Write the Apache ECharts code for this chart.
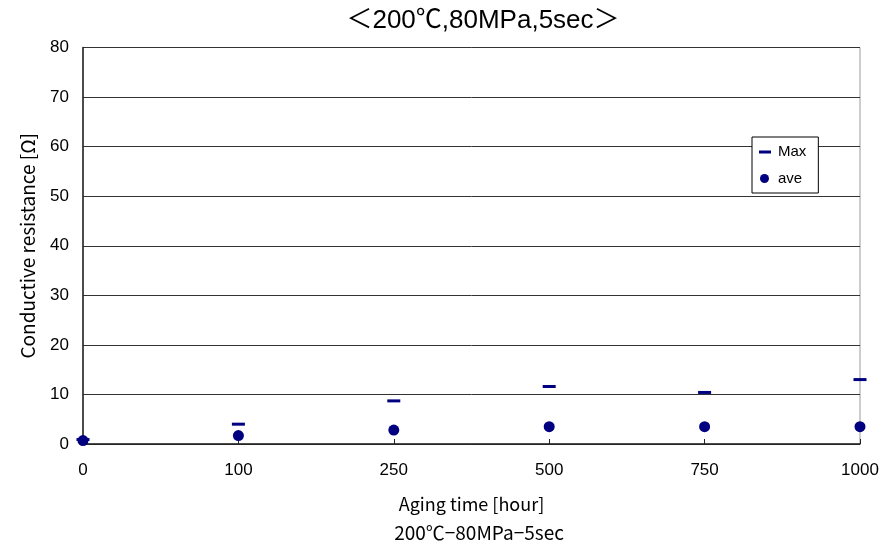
<!DOCTYPE html>
<html>
<head>
<meta charset="utf-8">
<script src="https://cdn.jsdelivr.net/npm/echarts@6/dist/echarts.min.js"></script>
<style>
  html, body { margin: 0; padding: 0; background: #fff; }
  #chart { width: 895px; height: 549px; }
</style>
</head>
<body>
<div id="chart"></div>
<script>
// aging time categories (equally spaced on the original chart)
const agingHours = ['0', '100', '250', '500', '750', '1000'];
// conductive resistance values [Ω]
const maxValues = [0.9, 4.0, 8.7, 11.6, 10.4, 13.0];
const aveValues = [0.7, 1.7, 2.8, 3.5, 3.5, 3.5];

const NAVY = '#000080';
const jpFont = '"Noto Sans CJK JP", sans-serif';
const latinFont = '"Liberation Sans", "Noto Sans CJK JP", Arial, sans-serif';

const chart = echarts.init(document.getElementById('chart'));

const option = {
  backgroundColor: '#fff',
  animation: false,
  title: [
    {
      text: '＜200℃,80MPa,5sec＞',
      left: 478,
      textAlign: 'center',
      top: 3,
      textStyle: { fontFamily: latinFont, fontSize: 26, fontWeight: 'normal', color: '#000' }
    },
    {
      text: '200℃−80MPa−5sec',
      left: 474,
      textAlign: 'center',
      top: 518,
      textStyle: { fontFamily: jpFont, fontSize: 19, fontWeight: 'normal', color: '#000' }
    }
  ],
  legend: {
    orient: 'vertical',
    left: 752,
    top: 137,
    padding: [7, 12, 7, 7],
    itemGap: 12,
    itemWidth: 12,
    itemHeight: 10,
    backgroundColor: '#fff',
    borderColor: '#000',
    borderWidth: 1,
    borderRadius: 0,
    textStyle: { fontFamily: latinFont, fontSize: 15, color: '#000', padding: [0, 0, 0, 2] },
    data: [
      { name: 'Max', icon: 'path://M0,0 M0,4 L12,4 L12,7 L0,7 Z M12,10' },
      { name: 'ave', icon: 'path://M0,0 M1,5 A4.5,4.5 0 1 1 10,5 A4.5,4.5 0 1 1 1,5 Z M12,10' }
    ]
  },
  grid: {
    left: 83,
    right: 35,
    top: 47.5,
    bottom: 105,
    show: true,
    borderColor: '#999',
    borderWidth: 1,
    backgroundColor: 'transparent'
  },
  xAxis: {
    type: 'category',
    data: agingHours,
    boundaryGap: false,
    name: 'Aging time [hour]',
    nameLocation: 'middle',
    nameGap: 51,
    nameMoveOverlap: false,
    nameTextStyle: { fontFamily: jpFont, fontSize: 18, color: '#000' },
    axisLine: { lineStyle: { color: '#222', width: 1.5 } },
    axisTick: { inside: true, length: 5, alignWithLabel: true, lineStyle: { color: '#222' } },
    axisLabel: { fontFamily: latinFont, fontSize: 17, color: '#000', margin: 18 },
    splitLine: { show: false }
  },
  yAxis: {
    type: 'value',
    min: 0,
    max: 80,
    interval: 10,
    name: 'Conductive resistance [Ω]',
    nameLocation: 'middle',
    nameGap: 46,
    nameMoveOverlap: false,
    nameTextStyle: { fontFamily: jpFont, fontSize: 19, color: '#000' },
    axisLine: { show: true, lineStyle: { color: '#222', width: 1.5 } },
    axisTick: { show: false },
    axisLabel: { fontFamily: latinFont, fontSize: 17, color: '#000', margin: 14 },
    splitLine: { show: true, lineStyle: { color: '#333', width: 1 } }
  },
  series: [
    {
      name: 'Max',
      type: 'scatter',
      data: maxValues,
      symbol: 'rect',
      symbolSize: [13, 3],
      itemStyle: { color: NAVY, opacity: 1 },
      z: 3
    },
    {
      name: 'ave',
      type: 'scatter',
      data: aveValues,
      symbol: 'circle',
      symbolSize: 11,
      itemStyle: { color: NAVY, opacity: 1 },
      z: 4
    }
  ]
};

chart.setOption(option);
</script>
</body>
</html>
